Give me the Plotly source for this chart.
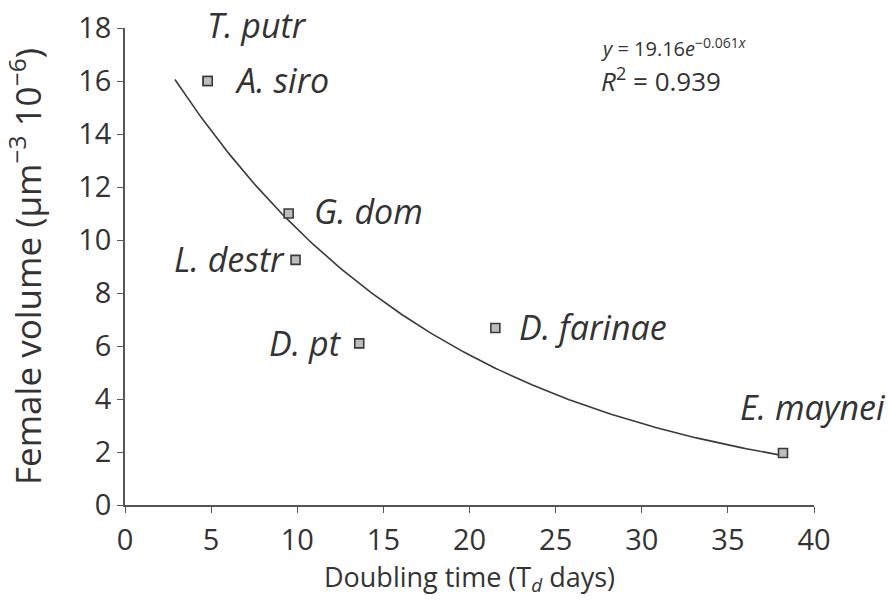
import numpy as np
import plotly.graph_objects as go

species = ["T. putr", "A. siro", "G. dom", "L. destr", "D. pt", "D. farinae", "E. maynei"]
doubling_time = [4.8, 4.8, 9.5, 9.9, 13.6, 21.5, 38.2]
female_volume = [16.0, 16.0, 11.0, 9.25, 6.1, 6.68, 1.96]

# fitted curve as given in the chart: y = 19.16 e^(-0.061 x)
fit_a = 19.16
fit_b = -0.061
fit_x_start, fit_x_end = 2.9, 38.2

x_ticks = [0, 5, 10, 15, 20, 25, 30, 35, 40]
y_ticks = [0, 2, 4, 6, 8, 10, 12, 14, 16, 18]

Y_MIN, Y_MAX = 0, 18

# label positions (data coords, left anchored)
label_pos = {
    "T. putr": (4.65, 19.05),
    "A. siro": (6.27, 16.04),
    "G. dom": (10.86, 11.1),
    "L. destr": (2.73, 9.28),
    "D. pt": (8.25, 6.11),
    "D. farinae": (22.76, 6.72),
    "E. maynei": (35.6, 3.7),
}

TXT = "#333333"
FONT = "Open Sans"

fx = np.linspace(fit_x_start, fit_x_end, 200)
fy = fit_a * np.exp(fit_b * fx)

fig = go.Figure()
fig.add_trace(go.Scatter(x=fx, y=fy, mode="lines",
                         line=dict(color="#3a3a3a", width=1.6),
                         hoverinfo="skip", showlegend=False))
fig.add_trace(go.Scatter(x=doubling_time, y=female_volume, mode="markers",
                         marker=dict(symbol="square", size=9, color="#bdbdbd",
                                     line=dict(color="#3a3a3a", width=1.6)),
                         showlegend=False, cliponaxis=False))

for name in species:
    lx, ly = label_pos[name]
    if ly > Y_MAX:
        yref, yval, yanc = "paper", (ly - Y_MIN) / (Y_MAX - Y_MIN), "top"
    else:
        yref, yval, yanc = "y", ly, "middle"
    fig.add_annotation(x=lx, y=yval, xref="x", yref=yref, text=f"<i>{name}</i>",
                       showarrow=False, xanchor="left", yanchor=yanc,
                       font=dict(family=FONT, size=34, color=TXT))

fig.add_annotation(x=27.5, y=17.25, xref="x", yref="y",
                   text="<i>y</i> = 19.16<i>e</i><sup>−0.061<i>x</i></sup>",
                   showarrow=False, xanchor="left", yanchor="middle",
                   font=dict(family=FONT, size=20, color=TXT))
fig.add_annotation(x=27.5, y=16.04, xref="x", yref="y",
                   text="<i>R</i><sup>2</sup> = 0.939",
                   showarrow=False, xanchor="left", yanchor="middle",
                   font=dict(family=FONT, size=26, color=TXT))

fig.update_layout(
    width=888, height=606,
    margin=dict(l=125, r=74, t=28, b=101, autoexpand=False),
    paper_bgcolor="white", plot_bgcolor="white",
    font=dict(family=FONT, color=TXT),
)
fig.update_xaxes(
    range=[0, 40], tickvals=x_ticks, ticktext=[str(v) for v in x_ticks],
    showgrid=False, zeroline=False, showline=True, linecolor="#555555", linewidth=1.5,
    ticks="outside", ticklen=6, tickwidth=1, tickcolor="#555555",
    tickfont=dict(family=FONT, size=29, color=TXT), automargin=False,
    ticklabelstandoff=2, ticklabeloverflow="allow",
    title=dict(text="Doubling time (T<sub><i>d</i></sub> days)",
               font=dict(family=FONT, size=27, color=TXT), standoff=4),
)
fig.update_yaxes(
    range=[Y_MIN, Y_MAX], tickvals=y_ticks, ticktext=[str(v) for v in y_ticks],
    showgrid=False, zeroline=False, showline=True, linecolor="#555555", linewidth=1.5,
    ticks="outside", ticklen=6, tickwidth=1, tickcolor="#555555",
    tickfont=dict(family=FONT, size=29, color=TXT), automargin=False,
    ticklabeloverflow="allow",
    title=dict(text="Female volume (μm<sup>−3</sup> 10<sup>−6</sup>)",
               font=dict(family=FONT, size=35, color=TXT), standoff=49),
)

fig.write_html("out.html", config={"displayModeBar": False},
               post_script="document.body.style.margin='0px';")
